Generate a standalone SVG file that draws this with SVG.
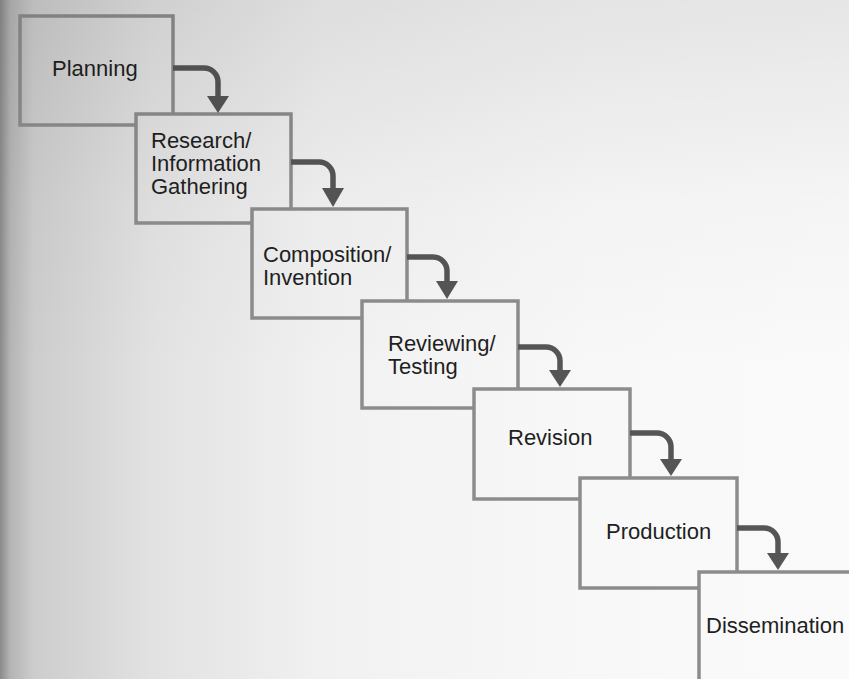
<svg xmlns="http://www.w3.org/2000/svg" width="849" height="679" viewBox="0 0 849 679">
  <defs>
    <linearGradient id="page" gradientUnits="userSpaceOnUse" x1="0" y1="0" x2="849" y2="0">
      <stop offset="0" stop-color="#8a8a8a"/>
      <stop offset="0.012" stop-color="#b4b4b4"/>
      <stop offset="0.04" stop-color="#cdcdcd"/>
      <stop offset="0.18" stop-color="#e2e2e2"/>
      <stop offset="0.38" stop-color="#f1f1f1"/>
      <stop offset="0.7" stop-color="#f8f8f8"/>
      <stop offset="1" stop-color="#fafafa"/>
    </linearGradient>
    <linearGradient id="shade" gradientUnits="userSpaceOnUse" x1="0" y1="0" x2="0" y2="679">
      <stop offset="0" stop-color="#000" stop-opacity="0.08"/>
      <stop offset="0.3" stop-color="#000" stop-opacity="0.02"/>
      <stop offset="0.55" stop-color="#000" stop-opacity="0"/>
    </linearGradient>
  </defs>
  <style>
    .box { fill: url(#page); stroke: #8c8c8c; stroke-width: 3.5; }
    .lbl { font-family: "Liberation Sans", Arial, sans-serif; font-size: 22px; fill: #1f1f1f; }
    .conn path { fill: none; stroke: #555555; stroke-width: 5.5; }
    .conn polygon { fill: #555555; }
  </style>
  <rect x="0" y="0" width="849" height="679" fill="url(#page)"/>

  <g id="planning">
    <rect class="box" x="20" y="16" width="153" height="109"/>
    <text class="lbl" x="52" y="76">Planning</text>
  </g>
  <g id="research">
    <rect class="box" x="136" y="114" width="155" height="109"/>
    <text class="lbl" x="151" y="148">Research/</text>
    <text class="lbl" x="151" y="171">Information</text>
    <text class="lbl" x="151" y="194">Gathering</text>
  </g>
  <g id="composition">
    <rect class="box" x="252" y="209" width="155" height="109"/>
    <text class="lbl" x="263" y="262">Composition/</text>
    <text class="lbl" x="263" y="285">Invention</text>
  </g>
  <g id="reviewing">
    <rect class="box" x="362" y="301" width="156" height="107"/>
    <text class="lbl" x="388" y="351">Reviewing/</text>
    <text class="lbl" x="388" y="374">Testing</text>
  </g>
  <g id="revision">
    <rect class="box" x="474" y="389" width="156" height="110"/>
    <text class="lbl" x="508" y="445">Revision</text>
  </g>
  <g id="production">
    <rect class="box" x="580" y="478" width="157" height="110"/>
    <text class="lbl" x="606" y="539">Production</text>
  </g>
  <g id="dissemination">
    <rect class="box" x="699" y="572" width="170" height="130"/>
    <text class="lbl" x="706" y="633">Dissemination</text>
  </g>

  <g id="connectors" class="conn">
    <path d="M173,68 H204 A14,14 0 0 1 218,82 V98"/>
    <polygon points="207,96 229,96 218,113"/>
    <path d="M291,162 H319 A14,14 0 0 1 333,176 V190"/>
    <polygon points="322,188 344,188 333,207"/>
    <path d="M407,257 H433 A14,14 0 0 1 447,271 V283"/>
    <polygon points="436,281 458,281 447,299"/>
    <path d="M518,347 H546 A14,14 0 0 1 560,361 V372"/>
    <polygon points="549,370 571,370 560,387"/>
    <path d="M630,433 H657 A14,14 0 0 1 671,447 V461"/>
    <polygon points="660,459 682,459 671,476"/>
    <path d="M737,528 H764 A14,14 0 0 1 778,542 V555"/>
    <polygon points="767,553 789,553 778,570"/>
  </g>

  <rect x="0" y="0" width="849" height="679" fill="url(#shade)" pointer-events="none"/>
</svg>
